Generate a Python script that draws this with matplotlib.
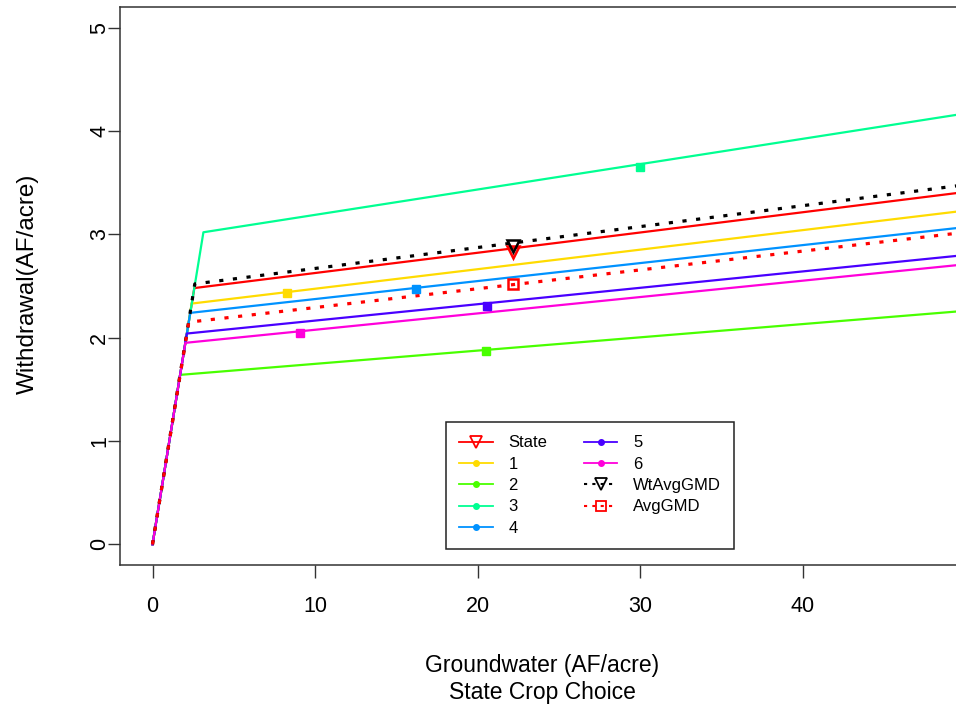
import matplotlib
matplotlib.use('Agg')
import matplotlib.pyplot as plt
from matplotlib.lines import Line2D

plt.rcParams['font.family'] = ['Liberation Sans', 'DejaVu Sans']

# ---- data ----
names = ['State', '1', '2', '3', '4', '5', '6', 'WtAvgGMD', 'AvgGMD']
colors = ['#FF0000', '#FFDB00', '#49FF00', '#00FF92', '#0092FF',
          '#4900FF', '#FF00DB', '#000000', '#FF0000']
kink_x = [2.57, 2.41, 1.70, 3.13, 2.32, 2.11, 2.02, 2.60, 2.23]
kink_y = [2.48, 2.33, 1.64, 3.02, 2.24, 2.04, 1.95, 2.52, 2.15]
end_x = [50, 50, 50, 50, 50, 50, 50, 50, 50]
end_y = [3.41, 3.23, 2.26, 4.17, 3.07, 2.80, 2.71, 3.48, 3.02]
mark_x = [22.2, 8.3, 20.5, 30.0, 16.2, 20.6, 9.1, 22.2, 22.2]
mark_y = [2.83, 2.43, 1.87, 3.65, 2.47, 2.31, 2.05, 2.89, 2.52]

xticks = [0, 10, 20, 30, 40]
yticks = [0, 1, 2, 3, 4, 5]
xlabel = 'Groundwater (AF/acre)\nState Crop Choice'
ylabel = 'Withdrawal(AF/acre)'

# ---- styles ----
W, H = 956, 710
fig = plt.figure(figsize=(W / 100, H / 100), dpi=100)
L, R, T, B = 120, 998, 7, 565
ax = fig.add_axes([L / W, 1 - B / H, (R - L) / W, (B - T) / H])
ax.set_xlim(-2, 52)
ax.set_ylim(-0.2, 5.2)

plot_marker = ['v', 's', 's', 's', 's', 's', 's', 'v', 's']
leg_marker = ['v', 'o', 'o', 'o', 'o', 'o', 'o', 'v', 's']
open_m = [True, False, False, False, False, False, False, True, True]
dotted = [False] * 7 + [True, True]

for i, n in enumerate(names):
    xs = [0, kink_x[i], end_x[i]]
    ys = [0, kink_y[i], end_y[i]]
    if dotted[i]:
        ax.plot(xs, ys, color=colors[i], lw=2.3, linestyle=(0, (1.3, 3.0)),
                dash_capstyle='butt', zorder=3 + i)
    else:
        ax.plot(xs, ys, color=colors[i], lw=1.6, zorder=3 + i)
    if open_m[i]:
        ms = 9 if plot_marker[i] == 'v' else 7.5
        ax.plot([mark_x[i]], [mark_y[i]], marker=plot_marker[i], ms=ms,
                mfc='none', mec=colors[i], mew=1.8, zorder=20 + i)
    else:
        ax.plot([mark_x[i]], [mark_y[i]], marker='s', ms=5.3,
                mfc=colors[i], mec=colors[i], zorder=20 + i)

ax.set_xticks(xticks)
ax.set_yticks(yticks)
ax.set_xticklabels([str(t) for t in xticks], fontsize=15.5)
ax.set_yticklabels([str(t) for t in yticks], fontsize=15.5, rotation=90,
                   va='center')
ax.tick_params(axis='both', direction='out', length=9, width=1,
               color='#333333')
ax.tick_params(axis='x', pad=13)
ax.tick_params(axis='y', pad=-2)
for s in ax.spines.values():
    s.set_color('#333333')
    s.set_linewidth(1.1)

fig.text(542 / W, 1 - 679 / H, xlabel, ha='center', va='center',
         fontsize=16.5, linespacing=1.25)
fig.text(28 / W, 1 - 284 / H, ylabel, ha='center', va='center',
         fontsize=17.5, rotation=90)

handles = []
for i, n in enumerate(names):
    if open_m[i]:
        ms = 8 if leg_marker[i] == 'v' else 7
        h = Line2D([], [], color=colors[i], lw=1.3 if not dotted[i] else 1.5,
                   linestyle=(0, (1.5, 2.5)) if dotted[i] else '-',
                   marker=leg_marker[i], ms=ms, mfc='none', mec=colors[i],
                   mew=1.3)
    else:
        h = Line2D([], [], color=colors[i], lw=1.3, marker='o', ms=4,
                   mfc=colors[i], mec=colors[i])
    handles.append(h)

leg = fig.legend(handles, names, loc='upper left',
                 bbox_to_anchor=(446 / W, 1 - 422 / H), ncol=2,
                 fontsize=12, frameon=True, fancybox=False, framealpha=1,
                 edgecolor='#222222', handlelength=2.0, handletextpad=0.95,
                 columnspacing=2.2, labelspacing=0.38, borderpad=0.8,
                 numpoints=1, borderaxespad=0)
leg.get_frame().set_linewidth(1.1)

fig.savefig('out.png', dpi=100)
